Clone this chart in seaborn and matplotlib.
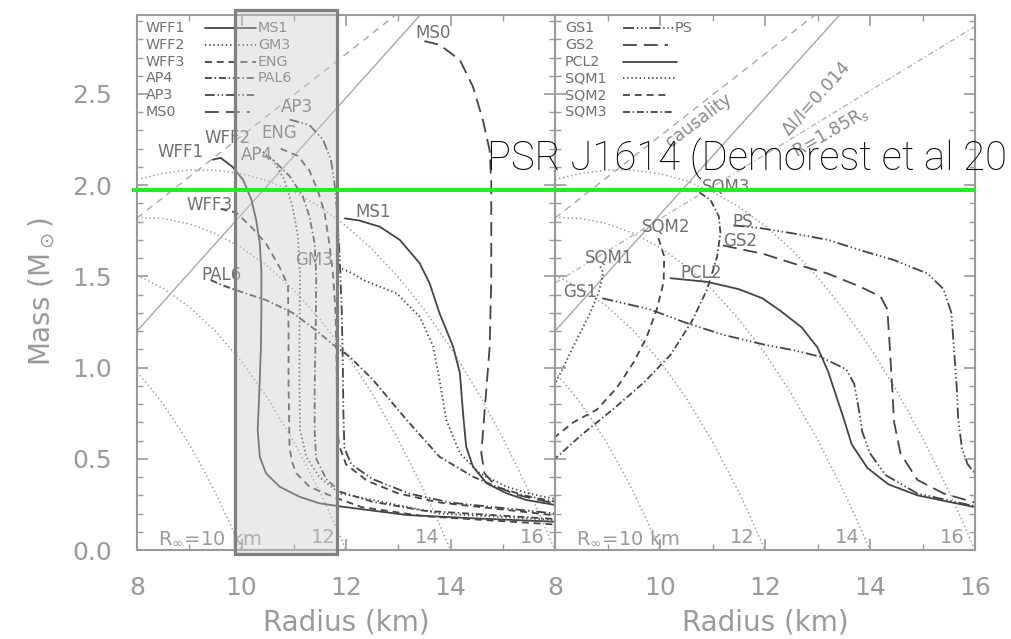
import matplotlib
matplotlib.use("Agg")
import matplotlib.pyplot as plt
from matplotlib.patches import Rectangle
from matplotlib.ticker import MultipleLocator, FormatStrFormatter
import seaborn as sns

sns.set_theme(style="white")
plt.rcParams["font.family"] = ["DejaVu Sans"]
plt.rcParams["mathtext.fontset"] = "dejavusans"
plt.rcParams["lines.scale_dashes"] = False

# ---------------- mass-radius curves (R in km, M in solar masses) ----------------
# left panel: nucleonic / hybrid equations of state
wff1_r = [9.45, 9.6, 9.83, 10.03, 10.19, 10.28, 10.35, 10.38, 10.38, 10.37, 10.35, 10.31, 10.35, 10.47, 10.73, 11.11, 11.49, 11.94, 13.16, 14.42, 16.0]
wff1_m = [2.14, 2.15, 2.10, 2.03, 1.92, 1.81, 1.68, 1.535, 1.3, 1.1, 0.93, 0.66, 0.51, 0.42, 0.347, 0.292, 0.256, 0.237, 0.192, 0.174, 0.155]

wff2_r = [10.28, 10.6, 10.82, 10.98, 11.08, 11.12, 11.11, 11.11, 11.12, 11.24, 11.49, 11.88, 12.52, 13.79, 16.0]
wff2_m = [2.21, 2.14, 2.03, 1.88, 1.72, 1.5, 1.2, 0.9, 0.66, 0.51, 0.40, 0.31, 0.274, 0.2, 0.165]

wff3_r = [9.6, 9.9, 10.19, 10.47, 10.73, 10.89, 10.9, 10.9, 10.92, 10.97, 11.05, 11.3, 11.75, 12.3, 13.5, 16.0]
wff3_m = [1.87, 1.85, 1.77, 1.68, 1.55, 1.45, 1.2, 0.9, 0.56, 0.48, 0.42, 0.347, 0.292, 0.235, 0.185, 0.14]

ap4_r = [10.45, 10.6, 10.92, 11.17, 11.3, 11.4, 11.43, 11.42, 11.4, 11.4, 11.43, 11.62, 11.88, 12.5, 13.5, 16.0]
ap4_m = [2.16, 2.14, 2.05, 1.94, 1.83, 1.68, 1.5, 1.2, 0.9, 0.65, 0.5, 0.39, 0.32, 0.265, 0.215, 0.17]

ap3_r = [10.92, 11.3, 11.56, 11.71, 11.78, 11.83, 11.88, 11.92, 11.94, 11.95, 11.97, 12.1, 12.5, 13.2, 14.0, 16.0]
ap3_m = [2.36, 2.33, 2.25, 2.14, 2.01, 1.85, 1.6, 1.3, 1.0, 0.75, 0.56, 0.47, 0.39, 0.31, 0.26, 0.2]

eng_r = [10.75, 11.08, 11.3, 11.46, 11.59, 11.68, 11.75, 11.8, 11.82, 11.83, 11.86, 12.0, 12.4, 13.0, 13.8, 16.0]
eng_m = [2.2, 2.16, 2.08, 1.97, 1.85, 1.68, 1.52, 1.3, 1.0, 0.75, 0.58, 0.47, 0.38, 0.31, 0.26, 0.19]

pal6_r = [9.41, 9.65, 9.89, 10.47, 10.98, 11.42, 11.8, 12.07, 12.52, 13.16, 13.79, 14.43, 14.88, 15.4, 16.0]
pal6_m = [1.48, 1.45, 1.425, 1.37, 1.30, 1.206, 1.115, 1.06, 0.932, 0.713, 0.511, 0.402, 0.347, 0.3, 0.265]

gm3_r = [11.85, 12.1, 12.33, 12.97, 13.41, 13.67, 13.79, 13.92, 14.18, 14.56, 15.07, 15.5, 16.0]
gm3_m = [1.55, 1.52, 1.48, 1.407, 1.279, 1.115, 0.932, 0.713, 0.53, 0.42, 0.347, 0.31, 0.28]

ms1_r = [11.98, 12.26, 12.65, 13.03, 13.41, 13.60, 13.79, 14.05, 14.18, 14.24, 14.30, 14.43, 14.69, 15.07, 15.45, 16.0]
ms1_m = [1.818, 1.806, 1.772, 1.70, 1.572, 1.462, 1.298, 1.115, 0.969, 0.749, 0.566, 0.457, 0.366, 0.311, 0.274, 0.247]

ms0_r = [13.5, 13.79, 14.18, 14.43, 14.62, 14.75, 14.78, 14.78, 14.78, 14.75, 14.65, 14.59, 14.65, 14.88, 15.3, 16.0]
ms0_m = [2.79, 2.77, 2.686, 2.54, 2.357, 2.19, 2.01, 1.77, 1.48, 1.115, 0.75, 0.53, 0.42, 0.347, 0.3, 0.255]

# right panel: exotic matter and strange quark matter
gs1_r = [8.9, 9.8, 10.45, 11.2, 12.0, 12.55, 13.05, 13.55, 13.7, 13.8, 13.85, 14.0, 14.3, 14.9, 16.0]
gs1_m = [1.38, 1.32, 1.25, 1.18, 1.125, 1.095, 1.06, 0.99, 0.91, 0.75, 0.65, 0.53, 0.41, 0.31, 0.24]

gs2_r = [11.2, 11.6, 11.95, 12.55, 13.2, 13.8, 14.2, 14.33, 14.38, 14.42, 14.46, 14.58, 14.9, 15.4, 16.0]
gs2_m = [1.67, 1.645, 1.625, 1.57, 1.515, 1.445, 1.39, 1.32, 1.1, 0.9, 0.7, 0.53, 0.385, 0.31, 0.26]

pcl2_r = [10.2, 10.9, 11.5, 11.95, 12.3, 12.7, 13.0, 13.2, 13.35, 13.5, 13.65, 13.95, 14.35, 14.9, 15.4, 16.0]
pcl2_m = [1.49, 1.47, 1.43, 1.38, 1.31, 1.22, 1.11, 0.98, 0.85, 0.72, 0.58, 0.45, 0.36, 0.3, 0.27, 0.235]

ps_r = [11.4, 11.9, 12.55, 13.2, 13.8, 14.45, 15.1, 15.4, 15.55, 15.6, 15.65, 15.68, 15.75, 15.86, 16.0]
ps_m = [1.78, 1.765, 1.735, 1.70, 1.645, 1.59, 1.515, 1.43, 1.3, 1.1, 0.9, 0.72, 0.56, 0.47, 0.42]

sqm1_r = [7.95, 8.35, 8.67, 8.83, 8.89, 8.92, 8.85]
sqm1_m = [0.88, 1.115, 1.3, 1.41, 1.48, 1.52, 1.56]

sqm2_r = [9.97, 10.08, 10.07, 9.94, 9.75, 9.5, 9.18, 8.8, 8.35, 8.0]
sqm2_m = [1.71, 1.61, 1.47, 1.32, 1.17, 1.03, 0.89, 0.77, 0.70, 0.62]

sqm3_r = [10.75, 10.96, 11.12, 11.15, 11.09, 10.9, 10.6, 10.2, 9.7, 9.1, 8.5, 8.0]
sqm3_m = [1.96, 1.92, 1.83, 1.74, 1.61, 1.43, 1.25, 1.07, 0.92, 0.77, 0.63, 0.5]

# contours of constant radiation radius R_inf (dotted arcs)
rinf10_r = [8.0, 8.25, 8.5, 8.75, 9.0, 9.25, 9.5, 9.75, 10.0]
rinf10_m = [0.975, 0.892, 0.799, 0.694, 0.579, 0.452, 0.314, 0.163, 0.0]
rinf12_r = [8.0, 8.5, 9.0, 9.5, 10.0, 10.5, 11.0, 11.5, 11.75, 12.0]
rinf12_m = [1.505, 1.434, 1.333, 1.200, 1.034, 0.833, 0.595, 0.318, 0.164, 0.0]
rinf14_r = [8.0, 8.5, 9.0, 9.5, 10.0, 10.5, 11.0, 11.5, 12.0, 12.5, 13.0, 13.5, 13.75, 14.0]
rinf14_m = [1.824, 1.817, 1.788, 1.735, 1.658, 1.555, 1.425, 1.266, 1.078, 0.858, 0.606, 0.321, 0.165, 0.0]
rinf16_r = [8.0, 8.5, 9.0, 9.5, 10.0, 10.5, 11.0, 11.5, 12.0, 12.5, 13.0, 13.5, 14.0, 14.5, 15.0, 15.5, 15.75, 16.0]
rinf16_m = [2.031, 2.065, 2.083, 2.082, 2.063, 2.024, 1.964, 1.882, 1.777, 1.649, 1.496, 1.317, 1.111, 0.877, 0.615, 0.323, 0.165, 0.0]

# limiting lines
causality_r = [8.0, 12.95]
causality_m = [1.82, 2.933]
dI_r = [8.0, 13.42]
dI_m = [1.2, 2.933]
rs_r = [8.0, 16.0]
rs_m = [1.464, 2.87]

# PSR J1614-2230 measured mass
psr_mass = 1.975

# ---------------- styles ----------------
SOLID = "-"
DOT = (0, (1.0, 2.0))
DASH = (0, (5.0, 3.5))
DASHDOT = (0, (5.0, 2.0, 1.0, 2.0))
DASHDOT2 = (0, (7.0, 2.0, 1.0, 2.0, 1.0, 2.0))
LONGDASH = (0, (10.0, 5.0))
DASHDOT3 = (0, (8.0, 2.0, 1.0, 2.0, 1.0, 2.0, 1.0, 2.0))

EOS_COLOR = "#454545"
GUIDE_COLOR = "#a8a8a8"
TEXT_GRAY = "#707070"
TICK_GRAY = "#9a9a9a"

left_curves = [
    (wff1_r, wff1_m, SOLID), (ms1_r, ms1_m, SOLID),
    (wff2_r, wff2_m, DOT), (gm3_r, gm3_m, DOT),
    (wff3_r, wff3_m, DASH), (eng_r, eng_m, DASH),
    (ap4_r, ap4_m, DASHDOT), (pal6_r, pal6_m, DASHDOT),
    (ap3_r, ap3_m, DASHDOT2), (ms0_r, ms0_m, LONGDASH),
]
right_curves = [
    (gs1_r, gs1_m, DASHDOT3), (ps_r, ps_m, DASHDOT3),
    (gs2_r, gs2_m, LONGDASH), (pcl2_r, pcl2_m, SOLID),
    (sqm1_r, sqm1_m, DOT), (sqm2_r, sqm2_m, DASH), (sqm3_r, sqm3_m, DASHDOT),
]
rinf_arcs = [(rinf10_r, rinf10_m), (rinf12_r, rinf12_m), (rinf14_r, rinf14_m), (rinf16_r, rinf16_m)]

W, H = 1011, 639
fig = plt.figure(figsize=(W / 100, H / 100), dpi=100)
fig.patch.set_facecolor("white")
bottom = 1 - 550 / H
height = 535 / H
ax1 = fig.add_axes([137 / W, bottom, 418 / W, height])
ax2 = fig.add_axes([555 / W, bottom, 420 / W, height])


def curve(ax, r, m, ls, color=EOS_COLOR, lw=1.3, z=2):
    sns.lineplot(x=r, y=m, ax=ax, sort=False, estimator=None, color=color,
                 linewidth=lw, linestyle=ls, zorder=z)


for ax in (ax1, ax2):
    for r, m in rinf_arcs:
        curve(ax, r, m, DOT, color="#9c9c9c", lw=1.1, z=1)
    curve(ax, causality_r, causality_m, (0, (5.0, 4.0)), color=GUIDE_COLOR, lw=1.0, z=1)
    curve(ax, dI_r, dI_m, SOLID, color=GUIDE_COLOR, lw=1.0, z=1)

curve(ax2, rs_r, rs_m, (0, (4.0, 2.0, 1.0, 2.0)), color="#b5b5b5", lw=1.0, z=1)

for r, m, ls in left_curves:
    curve(ax1, r, m, ls)
for r, m, ls in right_curves:
    curve(ax2, r, m, ls)

lab_kw = dict(fontsize=12, color=TEXT_GRAY, va="center", ha="left", zorder=3)
key_kw = dict(fontsize=10.3, color=TEXT_GRAY, va="center", ha="left", zorder=3)

# curve labels
for ax, items in (
    (ax1, [("WFF1", 8.40, 2.184), ("WFF2", 9.29, 2.257), ("AP4", 9.99, 2.166),
           ("ENG", 10.38, 2.284), ("AP3", 10.76, 2.43), ("WFF3", 8.94, 1.891),
           ("PAL6", 9.23, 1.508), ("GM3", 11.02, 1.59), ("MS1", 12.17, 1.855),
           ("MS0", 13.32, 2.833)]),
    (ax2, [("SQM3", 10.80, 1.992), ("SQM2", 9.65, 1.769), ("PS", 11.37, 1.80),
           ("GS2", 11.21, 1.696), ("SQM1", 8.57, 1.599), ("PCL2", 10.39, 1.517),
           ("GS1", 8.16, 1.416)]),
):
    for txt, x, y in items:
        ax.text(x, y, txt, **lab_kw)

# line-style keys
key_rows = [0.9757 - i * 0.0314 for i in range(6)]
left_key = [("WFF1", "MS1", SOLID, 0.285), ("WFF2", "GM3", DOT, 0.285),
            ("WFF3", "ENG", DASH, 0.285), ("AP4", "PAL6", DASHDOT, 0.285),
            ("AP3", "", DASHDOT2, 0.281), ("MS0", "", LONGDASH, 0.270)]
for (a, b, ls, x1), y in zip(left_key, key_rows):
    ax1.text(0.0215, y, a, transform=ax1.transAxes, **key_kw)
    ax1.plot([0.163, x1], [y, y], transform=ax1.transAxes, color=EOS_COLOR,
             lw=1.3, ls=ls, zorder=3)
    if b:
        ax1.text(0.289, y, b, transform=ax1.transAxes, **key_kw)

right_key = [("GS1", "PS", DASHDOT3, 0.281), ("GS2", "", LONGDASH, 0.269),
             ("PCL2", "", SOLID, 0.290), ("SQM1", "", DOT, 0.290),
             ("SQM2", "", DASH, 0.269), ("SQM3", "", DASHDOT, 0.281)]
for (a, b, ls, x1), y in zip(right_key, key_rows):
    ax2.text(0.024, y, a, transform=ax2.transAxes, **key_kw)
    ax2.plot([0.161, x1], [y, y], transform=ax2.transAxes, color=EOS_COLOR,
             lw=1.3, ls=ls, zorder=3)
    if b:
        ax2.text(0.286, y, b, transform=ax2.transAxes, **key_kw)

# labels of the limiting lines
guide_kw = dict(fontsize=12.5, color="#8a8a8a", ha="center", va="center",
                rotation_mode="anchor", zorder=3)
ax2.text(10.73, 2.357, "causality", rotation=37, **guide_kw)
ax2.text(12.97, 2.476, r"$\Delta$I/I=0.014", rotation=48, **guide_kw)
ax2.text(13.25, 2.29, r"R=1.85R$_s$", rotation=30, **guide_kw)

# radiation radius labels along the bottom
for ax in (ax1, ax2):
    ax.text(8.4, 0.066, r"R$_\infty$=10 km", fontsize=14, color=TICK_GRAY,
            ha="left", va="center", zorder=3)
    for val, xc in (("12", 11.56), ("14", 13.56), ("16", 15.56)):
        ax.text(xc, 0.066, val, fontsize=14, color=TICK_GRAY, ha="center",
                va="center", zorder=3)

# axes cosmetics
for ax in (ax1, ax2):
    ax.set_xlim(8, 16)
    ax.set_ylim(0, 2.933)
    ax.set_facecolor("white")
    ax.xaxis.set_major_locator(MultipleLocator(2))
    ax.xaxis.set_minor_locator(MultipleLocator(1))
    ax.yaxis.set_major_locator(MultipleLocator(0.5))
    ax.yaxis.set_minor_locator(MultipleLocator(0.1))
    ax.yaxis.set_major_formatter(FormatStrFormatter("%.1f"))
    ax.tick_params(which="both", direction="in", top=True, right=True,
                   bottom=True, left=True, colors=TICK_GRAY)
    ax.tick_params(which="major", length=8, width=1.2)
    ax.tick_params(which="minor", length=4, width=1.0)
    ax.tick_params(axis="x", which="major", pad=19, labelsize=18)
    ax.tick_params(axis="y", which="major", pad=18, labelsize=18)
    for s in ax.spines.values():
        s.set_color(TICK_GRAY)
        s.set_linewidth(1.5)
    ax.set_xlabel("Radius (km)", fontsize=20, color=TICK_GRAY)
    ax.xaxis.label.set_va("center")
    ax.xaxis.set_label_coords(0.5, -(622 - 550) / 535)

ax1.set_xticks([8, 10, 12, 14, 16])
ax1.set_xticklabels(["8", "10", "12", "14", ""])
ax2.tick_params(labelleft=False)
ax1.set_ylabel(r"Mass (M$_\odot$)", fontsize=20, color=TICK_GRAY)
ax1.yaxis.label.set_va("center")
ax1.yaxis.set_label_coords(-(137 - 42) / 418, (550 - 292) / 535)

# highlighted radius band
band = Rectangle((9.877, -0.021), 11.824 - 9.877, 2.959 + 0.021,
                 facecolor=(0.80, 0.80, 0.80, 0.40), edgecolor="#808080",
                 linewidth=2.3, clip_on=False, zorder=5)
ax1.add_patch(band)

# measured mass of PSR J1614
ax1.plot([7.9, 16.0], [psr_mass, psr_mass], color="#22ee22", lw=2.9,
         clip_on=False, zorder=6, solid_capstyle="butt")
ax2.plot([8.0, 16.0], [psr_mass, psr_mass], color="#22ee22", lw=2.9,
         clip_on=False, zorder=6, solid_capstyle="butt")
fig.text(486.7 / W, 1 - 169.3 / H, "PSR J1614 (Demorest et al 20",
         fontsize=28.8, family=["Roboto", "DejaVu Sans"], fontweight="light",
         color="black", ha="left", va="baseline", zorder=10)

fig.savefig("out.png", dpi=100)
